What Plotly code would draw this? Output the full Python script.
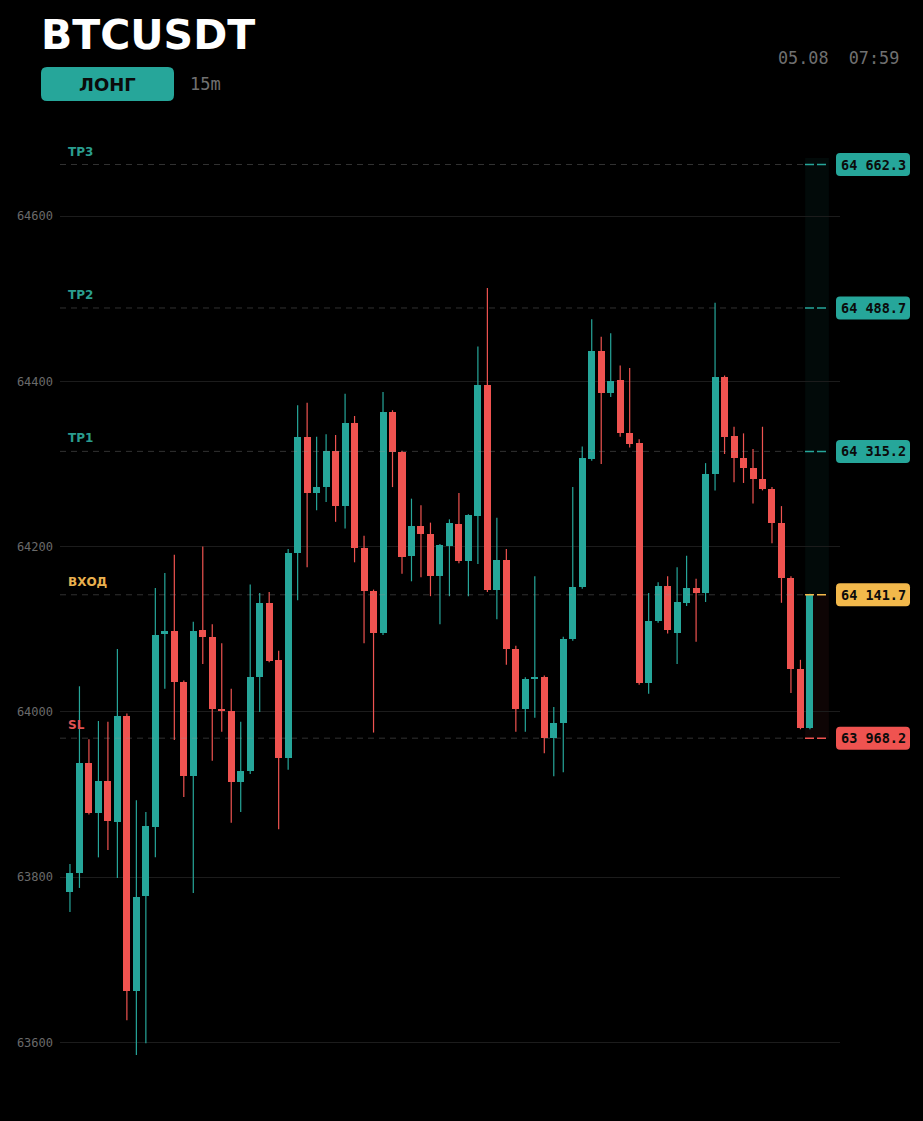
import plotly.graph_objects as go

# ---------------- data ----------------
symbol = "BTCUSDT"
side_label = "ЛОНГ"
timeframe = "15m"
timestamp = "05.08  07:59"

opens = [63782, 63805, 63938, 63878, 63916, 63867, 63995, 63662, 63777, 63861,
         64094, 64098, 64036, 63922, 64099, 64091, 64004, 64001, 63915, 63928,
         64042, 64132, 64063, 63944, 64192, 64333, 64265, 64272, 64316, 64249,
         64350, 64198, 64146, 64095, 64363, 64314, 64189, 64225, 64215, 64164,
         64201, 64227, 64183, 64237, 64396, 64147, 64184, 64076, 64004, 64040,
         64042, 63968, 63987, 64088, 64151, 64306, 64437, 64386, 64402, 64337,
         64325, 64035, 64110, 64152, 64095, 64132, 64150, 64144, 64288, 64405,
         64334, 64307, 64295, 64282, 64270, 64229, 64162, 64052, 63981]
highs = [63816, 64031, 63967, 63989, 63988, 64076, 63998, 63893, 63879, 64150,
         64168, 64190, 64038, 64109, 64200, 64106, 64083, 64028, 63988, 64154,
         64144, 64145, 64074, 64197, 64371, 64374, 64333, 64336, 64335, 64385,
         64358, 64213, 64148, 64387, 64365, 64316, 64258, 64250, 64229, 64203,
         64233, 64265, 64239, 64442, 64513, 64235, 64197, 64080, 64042, 64164,
         64044, 64006, 64091, 64272, 64321, 64475, 64454, 64458, 64419, 64416,
         64330, 64144, 64157, 64164, 64175, 64189, 64161, 64301, 64495, 64407,
         64345, 64337, 64318, 64345, 64272, 64249, 64164, 64063, 64143]
lows = [63758, 63787, 63876, 63824, 63833, 63799, 63627, 63585, 63599, 63824,
        64028, 63966, 63897, 63781, 64058, 63941, 63976, 63866, 63879, 63925,
        64000, 64060, 63858, 63930, 64135, 64175, 64244, 64254, 64230, 64222,
        64181, 64083, 63975, 64093, 64272, 64167, 64158, 64163, 64140, 64106,
        64140, 64180, 64140, 64179, 64145, 64112, 64057, 63976, 63976, 63993,
        63950, 63922, 63927, 64086, 64149, 64304, 64300, 64381, 64333, 64320,
        64033, 64022, 64108, 64095, 64058, 64128, 64085, 64133, 64268, 64312,
        64278, 64277, 64252, 64268, 64204, 64132, 64023, 63979, 63979]
closes = [63805, 63938, 63878, 63916, 63868, 63995, 63662, 63776, 63862, 64093,
          64098, 64036, 63922, 64098, 64091, 64004, 64001, 63915, 63928, 64042,
          64132, 64062, 63944, 64192, 64333, 64265, 64272, 64316, 64249, 64350,
          64198, 64146, 64095, 64363, 64314, 64187, 64225, 64215, 64164, 64202,
          64229, 64183, 64238, 64396, 64147, 64184, 64076, 64004, 64040, 64042,
          63968, 63987, 64088, 64151, 64307, 64437, 64386, 64400, 64337, 64324,
          64035, 64110, 64152, 64099, 64133, 64150, 64144, 64288, 64405, 64333,
          64307, 64295, 64282, 64270, 64229, 64162, 64052, 63981, 64141.7]

level_names = ["TP3", "TP2", "TP1", "ВХОД", "SL"]
level_prices = [64662.3, 64488.7, 64315.2, 64141.7, 63968.2]
y_ticks = [63600, 63800, 64000, 64200, 64400, 64600]

# ---------------- style ----------------
TEAL = "#26a69a"
RED = "#ef5350"
ORANGE = "#f2b84b"
level_colors = [TEAL, TEAL, TEAL, ORANGE, RED]
label_colors = ["#2a9d8f", "#2a9d8f", "#2a9d8f", "#e9b04e", "#e05252"]
MONO = "DejaVu Sans Mono"
SANS = "DejaVu Sans"

W, H = 923, 1121
ML, MR, MT, MB = 60, 83, 130, 11
PW = W - ML - MR
PH = H - MT - MB


def px_x(px):
    return (px - ML) / PW


def px_y(py):
    return (H - MB - py) / PH


def rrect(hw, hh, r):
    return (f"M {-hw + r},{-hh} L {hw - r},{-hh} Q {hw},{-hh} {hw},{-hh + r} "
            f"L {hw},{hh - r} Q {hw},{hh} {hw - r},{hh} L {-hw + r},{hh} "
            f"Q {-hw},{hh} {-hw},{hh - r} L {-hw},{-hh + r} Q {-hw},{-hh} {-hw + r},{-hh} Z")


n = len(opens)
idx = list(range(n))

fig = go.Figure()

# wicks
for up, col in [(True, TEAL), (False, RED)]:
    xs, ys = [], []
    for i in idx:
        if (closes[i] >= opens[i]) == up:
            xs += [i, i, None]
            ys += [lows[i], highs[i], None]
    fig.add_trace(go.Scatter(x=xs, y=ys, mode="lines", line=dict(color=col, width=1.2),
                             hoverinfo="skip", showlegend=False))

# bodies
bases = [min(o, c) for o, c in zip(opens, closes)]
heights = [max(abs(c - o), 1.5) for o, c in zip(opens, closes)]
colors = [TEAL if c >= o else RED for o, c in zip(opens, closes)]
fig.add_trace(go.Bar(x=idx, y=heights, base=bases, width=0.74,
                     marker=dict(color=colors, line=dict(width=0)),
                     showlegend=False, hoverinfo="skip"))

shapes = []
annotations = []

# shaded zone at right
shapes.append(dict(type="rect", xref="x", yref="y", x0=77.5, x1=80.0,
                   y0=level_prices[3], y1=level_prices[0] + 8,
                   fillcolor="rgba(38,166,154,0.06)", line=dict(width=0), layer="below"))
shapes.append(dict(type="rect", xref="x", yref="y", x0=77.5, x1=80.0,
                   y0=level_prices[4], y1=level_prices[3],
                   fillcolor="rgba(239,83,80,0.06)", line=dict(width=0), layer="below"))

for name, price, col, lcol in zip(level_names, level_prices, level_colors, label_colors):
    shapes.append(dict(type="line", xref="paper", yref="y", x0=0, x1=px_x(805),
                       y0=price, y1=price,
                       line=dict(color="rgba(150,150,150,0.33)", width=1, dash="6px,5px")))
    shapes.append(dict(type="line", xref="paper", yref="y", x0=px_x(805), x1=px_x(828),
                       y0=price, y1=price,
                       line=dict(color=col, width=1.5, dash="9px,3px")))
    shapes.append(dict(type="path", xref="paper", yref="y", xsizemode="pixel",
                       ysizemode="pixel", xanchor=px_x(873), yanchor=price,
                       path=rrect(37, 11.5, 4), fillcolor=col, line=dict(width=0)))
    annotations.append(dict(x=px_x(873), y=price, xref="paper", yref="y",
                            text="<b>" + f"{price:,.1f}".replace(",", " ") + "</b>",
                            showarrow=False, xanchor="center", yanchor="middle",
                            font=dict(family=MONO, size=13.5, color="#0b0b0b")))
    annotations.append(dict(x=px_x(66), y=price, xref="paper", yref="y",
                            text="<b>" + name + "</b>", showarrow=False,
                            xanchor="left", yanchor="middle", yshift=13,
                            font=dict(family=SANS, size=12, color=lcol)))

# header
shapes.append(dict(type="path", xref="paper", yref="paper", xsizemode="pixel",
                   ysizemode="pixel", xanchor=px_x(107.5), yanchor=px_y(84),
                   path=rrect(66.5, 17, 6), fillcolor=TEAL, line=dict(width=0)))
annotations.append(dict(x=px_x(107.5), y=px_y(84), xref="paper", yref="paper",
                        text="<b>" + side_label + "</b>", showarrow=False,
                        xanchor="center", yanchor="middle",
                        font=dict(family=SANS, size=18, color="#0b0b0b")))
annotations.append(dict(x=px_x(39), y=px_y(35), xref="paper", yref="paper",
                        text="<b>" + symbol + "</b>", showarrow=False,
                        xanchor="left", yanchor="middle",
                        font=dict(family=SANS, size=41, color="#ffffff")))
annotations.append(dict(x=px_x(188), y=px_y(84), xref="paper", yref="paper",
                        text=timeframe, showarrow=False, xanchor="left", yanchor="middle",
                        font=dict(family=MONO, size=17, color="#707070")))
annotations.append(dict(x=px_x(901), y=px_y(58), xref="paper", yref="paper",
                        text=timestamp, showarrow=False, xanchor="right", yanchor="middle",
                        font=dict(family=MONO, size=16.8, color="#707070")))

price_per_px = 200 / 165.3
y_top = 64600 + (216 - MT) * price_per_px
y_bottom = y_top - PH * price_per_px

fig.update_layout(
    width=W, height=H,
    margin=dict(l=ML, r=MR, t=MT, b=MB, pad=0),
    paper_bgcolor="#000000", plot_bgcolor="#000000",
    barmode="overlay", bargap=0,
    showlegend=False,
    shapes=shapes, annotations=annotations,
    xaxis=dict(range=[-1.05, 81.17], visible=False, fixedrange=True),
    yaxis=dict(range=[y_bottom, y_top], tickvals=y_ticks, tickformat="d",
               showgrid=True, gridcolor="#1c1c1c", gridwidth=1, zeroline=False,
               showline=False, ticks="", ticklabelstandoff=6,
               tickfont=dict(family=MONO, size=12, color="#6a6a6a"), fixedrange=True),
)

fig.write_html("out.html", config={"displayModeBar": False},
               post_script="document.body.style.margin='0';")
